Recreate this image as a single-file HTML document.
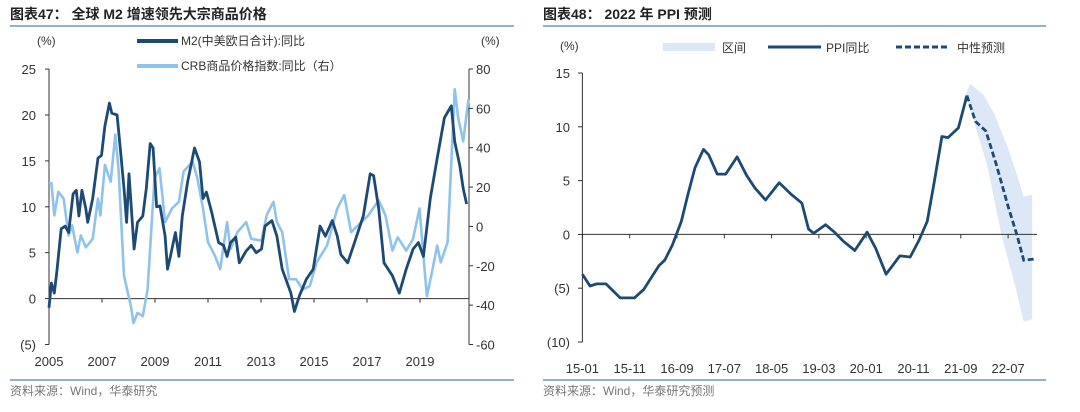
<!DOCTYPE html>
<html><head><meta charset="utf-8"><style>
body{margin:0;background:#fff;width:1080px;height:407px;overflow:hidden;font-family:"Liberation Sans","Noto Sans CJK SC",sans-serif}
svg text{font-family:"Liberation Sans","Noto Sans CJK SC",sans-serif}
</style></head><body>
<svg id="s" width="1080" height="407">
<g>
<text x="10" y="19" font-size="14" font-weight="bold" fill="#222">图表47：  全球 M2 增速领先大宗商品价格</text>
<line x1="10" y1="26" x2="514" y2="26" stroke="#6f98c2" stroke-width="1.5"/>
<line x1="10" y1="380" x2="514" y2="380" stroke="#6f98c2" stroke-width="1.5"/>
<text x="10" y="395" font-size="12" fill="#777">资料来源：Wind，华泰研究</text>
<text x="37" y="45" font-size="12" fill="#333">(%)</text>
<text x="481" y="45" font-size="12" fill="#333">(%)</text>
<line x1="137" y1="41" x2="178" y2="41" stroke="#1d4a74" stroke-width="4"/>
<text x="181" y="45" font-size="12" fill="#333">M2(中美欧日合计):同比</text>
<line x1="137" y1="66" x2="178" y2="66" stroke="#8fc3ec" stroke-width="4"/>
<text x="181" y="70" font-size="12" fill="#333">CRB商品价格指数:同比（右）</text>
<g id="L"></g>
</g>
<g>
<text x="543" y="19" font-size="14" font-weight="bold" fill="#222">图表48：  2022 年 PPI 预测</text>
<line x1="543" y1="26" x2="1046" y2="26" stroke="#6f98c2" stroke-width="1.5"/>
<line x1="543" y1="380" x2="1046" y2="380" stroke="#6f98c2" stroke-width="1.5"/>
<text x="543" y="395" font-size="12" fill="#777">资料来源：Wind，华泰研究预测</text>
<text x="560" y="50" font-size="12" fill="#333">(%)</text>
<rect x="663" y="43" width="52" height="8" fill="#dce8f5"/>
<text x="722" y="52" font-size="12" fill="#333">区间</text>
<line x1="768" y1="47" x2="821" y2="47" stroke="#1d4a74" stroke-width="3"/>
<text x="826" y="52" font-size="12" fill="#333">PPI同比</text>
<line x1="896" y1="47" x2="950" y2="47" stroke="#1d4a74" stroke-width="3" stroke-dasharray="6,3"/>
<text x="957" y="52" font-size="12" fill="#333">中性预测</text>
<g id="R"></g>
</g>
</svg>
<script>
const leftYTicks=[25,20,15,10,5,0,-5];
const leftYLabels=["25","20","15","10","5","0","(5)"];
const rightYTicks=[80,60,40,20,0,-20,-40,-60];
const leftXLabels=["2005","2007","2009","2011","2013","2015","2017","2019"];
const m2T=[0,0.09,0.2,0.29,0.46,0.61,0.74,0.91,1.03,1.13,1.24,1.39,1.46,1.65,1.85,1.98,2.11,2.28,2.37,2.57,2.7,2.83,2.93,3.02,3.21,3.34,3.54,3.67,3.82,3.93,4.06,4.19,4.38,4.47,4.58,4.77,4.9,5.03,5.23,5.49,5.68,5.81,5.94,6.14,6.4,6.59,6.72,6.85,7.05,7.18,7.44,7.63,7.82,8.02,8.15,8.41,8.6,8.8,9.13,9.26,9.45,9.71,9.97,10.23,10.43,10.69,10.88,11.01,11.27,11.53,11.86,12.12,12.25,12.44,12.64,12.96,13.22,13.48,13.74,13.94,14.13,14.39,14.65,14.92,15.18,15.31,15.5,15.63,15.76];
const m2V=[-1,1.7,0.6,2.8,7.6,7.9,7.2,11.4,11.8,9,11.8,9.8,8.3,10.9,15.3,15.6,18.8,21.3,20.2,20,16,12,8.3,13.6,5.4,8.3,9,12,16.9,16.4,10,10.1,6.8,3.2,4.6,7.2,4.6,9,12.7,16.4,14.9,10.9,11.6,9.4,6.1,5.8,4.6,6.1,6.7,3.9,5.2,5.8,5,5.4,7.9,8.5,6.8,3.2,0.6,-1.4,0.3,2.1,3.2,7.9,6.8,8.5,6.8,4.8,3.9,6.1,9,13.6,13.4,9.8,3.9,2.5,0.6,3.2,5.4,6.1,4.6,10.9,15.3,19.7,21,17.1,14.5,12,10.3];
const crbT=[0,0.09,0.2,0.35,0.55,0.74,0.87,1.07,1.2,1.39,1.65,1.85,1.94,2.11,2.33,2.5,2.63,2.83,3.09,3.19,3.34,3.54,3.72,3.98,4.17,4.38,4.64,4.9,5.08,5.42,5.6,5.81,6,6.26,6.46,6.72,6.85,7.11,7.44,7.63,8.02,8.21,8.47,8.6,8.8,9.06,9.32,9.58,9.84,10.1,10.49,10.88,11.14,11.4,11.66,12.05,12.44,12.7,12.96,13.16,13.48,13.74,13.98,14.13,14.26,14.46,14.65,14.78,15.04,15.31,15.44,15.63,15.83];
const crbV=[21.9,21.9,5.6,17.6,14.2,-4.6,0.5,-13.2,-4.6,-10.6,-6.3,14.2,5.6,31.3,22.7,46.7,27.9,-25.1,-40.5,-49.1,-43.9,-45.6,-32,24.4,29.6,2.2,9.1,12.5,27.9,33,24.4,9.1,-8,-14.9,-21.7,2.2,-11.5,-2.9,2.2,-6.3,-7.2,5.6,12.5,2.2,-2.9,-26.8,-26.8,-32,-30.3,-18.3,-9.7,9.1,15.9,-2.9,0.5,5.6,13.3,5.6,-12.3,-5.5,-12.3,-6.3,9.1,-14.9,-35.4,-22.6,-9.7,-18.3,-8,69.7,55.2,43.2,64.6];
const ppiYTicks=[15,10,5,0,-5,-10];
const ppiYLabels=["15","10","5","0","(5)","(10)"];
const ppiXLabels=["15-01","15-11","16-09","17-07","18-05","19-03","20-01","20-11","21-09","22-07"];
const ppiT=[0,1.6,3,5,8,11,13,14.3,16.2,17.4,19,20.9,22.3,23.8,25.6,26.7,28.5,30.3,32.7,34.7,36.5,38.7,41.6,44.2,46.4,47.8,48.9,51.4,53.3,55.1,57.6,60.2,62,64.2,67.1,69.3,71.1,72.9,74.4,76,77.3,79.5,81.3];
const ppiV=[-3.7,-4.8,-4.6,-4.6,-5.9,-5.9,-5.1,-4.2,-2.9,-2.4,-1,1.2,3.7,6.2,7.9,7.4,5.6,5.6,7.2,5.5,4.3,3.2,4.8,3.7,2.9,0.5,0.1,0.9,0.2,-0.6,-1.5,0.2,-1.3,-3.7,-2,-2.1,-0.6,1.2,4.9,9.1,9,9.9,12.9];
const fcT=[81.3,83.1,85.3,87.5,90,91.9,93.3,95.5];
const fcV=[12.9,10.5,9.6,6.5,2.6,-0.1,-2.4,-2.3];
const bandUpT=[80.6,82,84.9,87.1,90,91.9,93.3,95.1];
const bandUpV=[12.6,14,12.9,11.2,8,5.5,3.5,3.7];
const bandLoT=[80.6,81.3,85.7,88.6,91.5,93.3,95.1];
const bandLoV=[12.4,12.7,6.2,-0.1,-4.8,-8.1,-7.9];

const NS="http://www.w3.org/2000/svg";
function mk(p,tag,at){const e=document.createElementNS(NS,tag);for(const k in at)e.setAttribute(k,at[k]);p.appendChild(e);return e;}
function txt(p,x,y,s,anchor){const t=mk(p,"text",{x:x,y:y,"font-size":13,fill:"#333","text-anchor":anchor});t.textContent=s;return t;}
function path(T,V,fx,fy){return T.map((t,i)=>(i?"L":"M")+fx(t).toFixed(1)+","+fy(V[i]).toFixed(1)).join("");}

const L=document.getElementById("L");
const lx=t=>49+t*26.5, ly=v=>298.6-v*9.18, ry=v=>69+(80-v)*(275.5/140);
let e=mk(L,"line",{x1:49,y1:69,x2:49,y2:344.5,stroke:"#333"});

e=mk(L,"line",{x1:469,y1:69,x2:469,y2:344.5,stroke:"#333"});

e=mk(L,"line",{x1:49,y1:ly(0),x2:469,y2:ly(0),stroke:"#333"});

leftYTicks.forEach((v,i)=>{mk(L,"line",{x1:45,y1:ly(v),x2:49,y2:ly(v),stroke:"#333"});
 e=txt(L,36,ly(v)+5,leftYLabels[i],"end");});
rightYTicks.forEach(v=>{mk(L,"line",{x1:469,y1:ry(v),x2:473,y2:ry(v),stroke:"#333"});
 e=txt(L,476,ry(v)+5,String(v),"start");});
leftXLabels.forEach((s,i)=>{mk(L,"line",{x1:lx(i*2),y1:ly(0),x2:lx(i*2),y2:ly(0)+4,stroke:"#333"});
 e=txt(L,lx(i*2),366,s,"middle");});
e=mk(L,"path",{d:path(crbT,crbV,lx,ry),fill:"none",stroke:"#8fc3ec","stroke-width":2.6,"stroke-linejoin":"round"});

e=mk(L,"path",{d:path(m2T,m2V,lx,ly),fill:"none",stroke:"#1d4a74","stroke-width":2.8,"stroke-linejoin":"round"});


const R=document.getElementById("R");
const px=t=>582.4+t*4.73, py=v=>234.4-v*10.76;
const bd=path(bandUpT,bandUpV,px,py)+bandLoT.slice().reverse().map((t,i,a)=>"L"+px(t).toFixed(1)+","+py(bandLoV[bandLoV.length-1-i]).toFixed(1)).join("")+"Z";
e=mk(R,"path",{d:bd,fill:"#dce8f5",stroke:"none"});

e=mk(R,"line",{x1:582.4,y1:py(15),x2:582.4,y2:py(-10),stroke:"#333"});

e=mk(R,"line",{x1:582.4,y1:py(0),x2:1037,y2:py(0),stroke:"#333"});

ppiYTicks.forEach((v,i)=>{mk(R,"line",{x1:578,y1:py(v),x2:582.4,y2:py(v),stroke:"#333"});
 e=txt(R,570,py(v)+5,ppiYLabels[i],"end");});
ppiXLabels.forEach((s,i)=>{mk(R,"line",{x1:px(i*10),y1:py(0),x2:px(i*10),y2:py(0)+4,stroke:"#333"});
 e=txt(R,px(i*10),373,s,"middle");});
e=mk(R,"path",{d:path(ppiT,ppiV,px,py),fill:"none",stroke:"#1d4a74","stroke-width":2.8,"stroke-linejoin":"round"});

e=mk(R,"path",{d:path(fcT,fcV,px,py),fill:"none",stroke:"#1d4a74","stroke-width":2.8,"stroke-dasharray":"6,3"});

</script>
</body></html>
